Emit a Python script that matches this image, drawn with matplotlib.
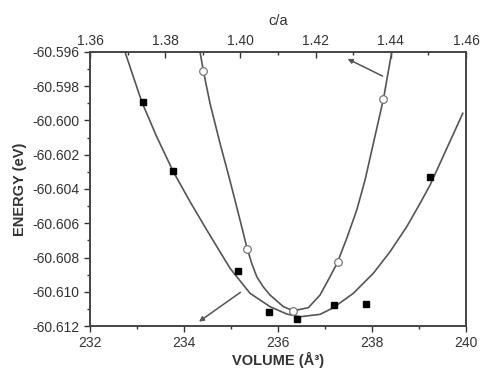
import matplotlib
matplotlib.use('Agg')
import matplotlib.pyplot as plt
from matplotlib.ticker import MultipleLocator

# calculated points, energy vs volume (bottom axis)
vol = [233.12, 233.77, 235.15, 235.81, 236.40, 237.19, 237.87, 239.23]
e_vol = [-60.59892, -60.60295, -60.60879, -60.61116, -60.61161, -60.61079, -60.61070, -60.60328]

# calculated points, energy vs c/a (top axis)
ca = [1.3900, 1.4018, 1.4141, 1.4259, 1.4378]
e_ca = [-60.59711, -60.60749, -60.61112, -60.60828, -60.59876]

# fitted curves
fit_vol = [232.745, 233.100, 233.419, 233.772, 234.128, 234.483, 234.979, 235.404, 235.830,
           236.185, 236.468, 236.894, 237.177, 237.602, 238.028, 238.383, 238.738, 239.021,
           239.234, 239.930]
fit_e_vol = [-60.59600, -60.59890, -60.60095, -60.60299, -60.60474, -60.60639, -60.60863,
             -60.61009, -60.61087, -60.61130, -60.61146, -60.61132, -60.61093, -60.61009,
             -60.60892, -60.60766, -60.60620, -60.60484, -60.60377, -60.59958]

fit_ca = [1.38926, 1.39013, 1.39191, 1.39457, 1.39723, 1.39989, 1.40168, 1.40301, 1.40434,
          1.40609, 1.40787, 1.41141, 1.41407, 1.41806, 1.42117, 1.42383, 1.42577, 1.42827,
          1.43093, 1.43314, 1.43801, 1.44024]
fit_e_ca = [-60.59600, -60.59709, -60.59900, -60.60133, -60.60352, -60.60581, -60.60739,
            -60.60835, -60.60912, -60.60972, -60.61019, -60.61087, -60.61111, -60.61093,
            -60.61019, -60.60912, -60.60830, -60.60688, -60.60523, -60.60347, -60.59876,
            -60.59600]

plt.rcParams['font.family'] = ['Liberation Sans', 'DejaVu Sans']
dark = '#333333'
line = '#555555'

fig = plt.figure(figsize=(4.8, 3.73), dpi=100)
ax = fig.add_axes([0.1875, 0.126, 0.7835, 0.7346])

ax.plot(fit_vol, fit_e_vol, color=line, lw=1.2, zorder=2)
ax.plot(vol, e_vol, 's', color='black', ms=4.2, zorder=3)
ax.set_xlim(232, 240)
ax.set_ylim(-60.612, -60.596)
ax.xaxis.set_major_locator(MultipleLocator(2))
ax.xaxis.set_minor_locator(MultipleLocator(1))
ax.yaxis.set_major_locator(MultipleLocator(0.002))
ax.yaxis.set_minor_locator(MultipleLocator(0.001))
ax.yaxis.set_major_formatter(lambda v, p: '%.3f' % v)
ax.tick_params(which='both', direction='out', colors=dark, labelsize=10, width=1)
ax.tick_params(which='major', length=4)
ax.tick_params(which='minor', length=2.5)
ax.tick_params(axis='y', which='both', right=False)
ax.set_xlabel('VOLUME (Å³)', fontsize=10.5, fontweight='bold', color=dark, labelpad=1)
ax.set_ylabel('ENERGY (eV)', fontsize=10.5, fontweight='bold', color=dark, labelpad=4)

ax2 = ax.twiny()
ax2.plot(fit_ca, fit_e_ca, color=line, lw=1.2, zorder=2)
ax2.plot(ca, e_ca, 'o', mfc='white', mec='#777777', mew=0.9, ms=5.5, zorder=3)
ax2.set_xlim(1.36, 1.46)
ax2.set_ylim(-60.612, -60.596)
ax2.xaxis.set_major_locator(MultipleLocator(0.02))
ax2.xaxis.set_minor_locator(MultipleLocator(0.01))
ax2.xaxis.set_major_formatter(lambda v, p: '%.2f' % v)
ax2.tick_params(which='both', direction='in', colors=dark, labelsize=10, width=1)
ax2.tick_params(which='major', length=4, pad=3)
ax2.tick_params(which='minor', length=2.5)
ax2.set_xlabel('c/a', fontsize=10.5, color=dark, labelpad=6)

for a in (ax, ax2):
    for s in a.spines.values():
        s.set_color('#444444')
        s.set_linewidth(1.2)

arrow = dict(arrowstyle='-|>', color=line, lw=1.1, mutation_scale=7)
ax.annotate('', xy=(237.426, -60.59633), xytext=(238.277, -60.59748), arrowprops=arrow)
ax.annotate('', xy=(234.270, -60.61184), xytext=(235.249, -60.60994), arrowprops=arrow)

fig.savefig('out.png', dpi=100)
